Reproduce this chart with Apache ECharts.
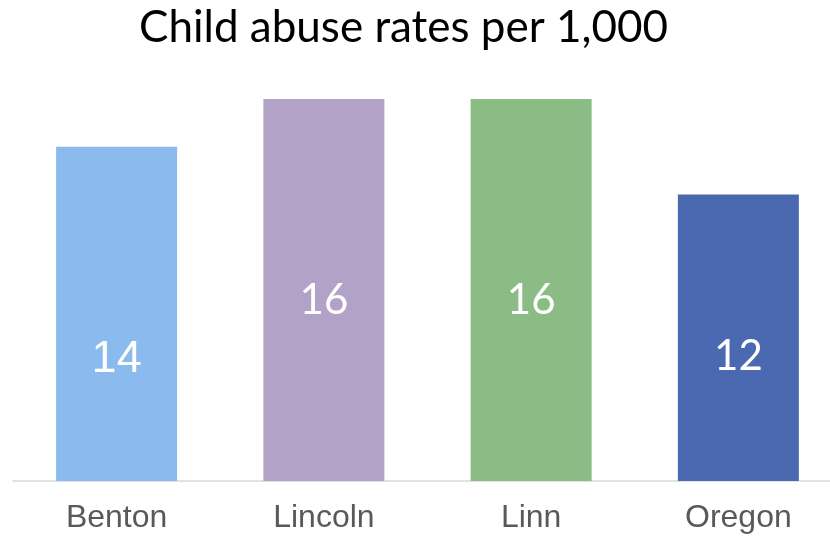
<!DOCTYPE html>
<html><head><meta charset="utf-8">
<script src="https://cdn.jsdelivr.net/npm/echarts@6/dist/echarts.min.js"></script>
<style>html,body{margin:0;padding:0;background:#fff;overflow:hidden}#c{width:842px;height:536px}</style>
</head><body><div id="c"></div>
<script>
const titleText = "Child abuse rates per 1,000";
const categories = ["Benton", "Lincoln", "Linn", "Oregon"];
const values = [14, 16, 16, 12];

const barColors = ["#8ABAEE", "#B3A2C7", "#8CBC85", "#4B69B1"];
const labelOffsets = [[0, 46], [0, 10], [0, 10], [0, 19]];
const labelFonts = ["Liberation Sans", "Lato", "Lato", "Lato"];
const labelSizes = [45, 42, 42, 42];

const chart = echarts.init(document.getElementById('c'), null, {renderer: 'canvas'});
chart.setOption({
  animation: false,
  backgroundColor: '#fff',
  title: {
    text: titleText, left: 139, top: 6, padding: 0,
    textStyle: {fontFamily: 'Lato', fontSize: 44, fontWeight: 'normal', color: '#000'}
  },
  grid: {left: 13, top: 99, right: 0, bottom: 55, containLabel: false},
  xAxis: {
    type: 'category', data: categories,
    axisLine: {lineStyle: {color: '#D9D9D9', width: 1.5}},
    axisTick: {show: false},
    axisLabel: {fontFamily: 'Liberation Sans', fontSize: 32, color: '#595959', margin: 21}
  },
  yAxis: {type: 'value', min: 0, max: 16, show: false, splitLine: {show: false}},
  series: [{
    type: 'bar', barWidth: 121,
    data: values.map((v, i) => ({
      value: v,
      itemStyle: {color: barColors[i]},
      label: {offset: labelOffsets[i], fontFamily: labelFonts[i], fontSize: labelSizes[i]}
    })),
    label: {show: true, position: 'inside', color: '#fff'}
  }]
});
</script></body></html>
